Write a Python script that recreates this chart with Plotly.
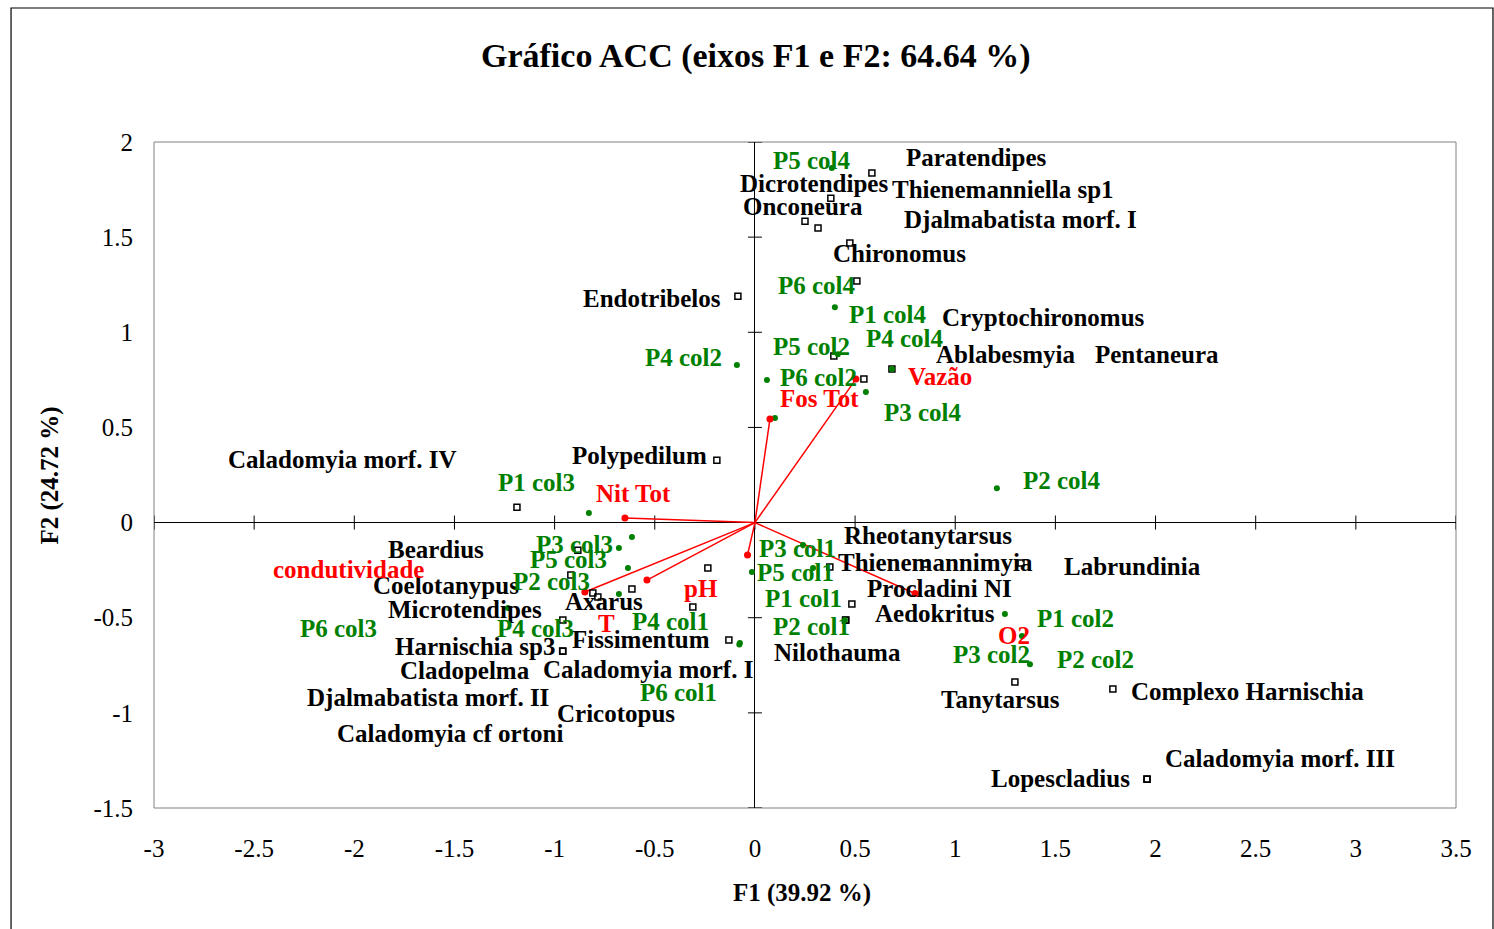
import plotly.graph_objects as go

# ---------------- data: CCA scores (F1, F2) ----------------
species_names = [
    "Paratendipes", "Dicrotendipes", "Onconeura", "Thienemanniella sp1",
    "Djalmabatista morf. I", "Chironomus", "Endotribelos", "Cryptochironomus",
    "Pentaneura", "Ablabesmyia", "Polypedilum", "Caladomyia morf. IV",
    "Beardius", "Coelotanypus", "Microtendipes", "Axarus", "Harnischia sp3",
    "Fissimentum", "Cladopelma", "Caladomyia morf. I", "Djalmabatista morf. II",
    "Cricotopus", "Caladomyia cf ortoni",
    "Rheotanytarsus", "Thienemannimyia", "Labrundinia", "Procladini NI",
    "Aedokritus", "Nilothauma", "Tanytarsus", "Complexo Harnischia",
    "Caladomyia morf. III", "Lopescladius",
]
species_f1 = [
    0.584, 0.379, 0.250, 0.315, 0.474, 0.509, -0.085, 0.394, 0.544, 0.684,
    -0.190, -1.188,
    -0.884, -0.919, -0.959, -0.784, -0.959, -0.130, -0.809, -0.310, -0.614,
    -0.235, -0.960,
    0.374, 0.849, 1.328, 0.484, 0.454, 0.452, 1.298, 1.787, 1.957, 1.958,
]
species_f2 = [
    1.837, 1.705, 1.584, 1.548, 1.469, 1.269, 1.190, 0.875, 0.754, 0.807,
    0.328, 0.081,
    -0.145, -0.276, -0.512, -0.391, -0.675, -0.617, -0.370, -0.444, -0.349,
    -0.239, -0.676,
    -0.234, -0.218, -0.213, -0.428, -0.512, -0.513, -0.838, -0.875, -1.348, -1.349,
]

site_names = [
    "P5 col4", "P1 col4", "P6 col4", "P5 col2", "P4 col4", "P4 col2",
    "P6 col2", "P3 col4", "P2 col4",
    "P1 col3", "P3 col3", "P5 col3", "P2 col3", "P4 col3", "P6 col3",
    "P4 col1", "P6 col1", "P3 col1", "P5 col1", "P1 col1", "P2 col1",
    "P1 col2", "P3 col2", "P2 col2",
]
site_f1 = [
    0.384, 0.399, 0.100, 0.414, 0.684, -0.090, 0.060, 0.554, 1.208,
    -0.829, -0.614, -0.679, -0.634, -0.679, -1.233,
    -0.075, -0.078, 0.240, -0.015, 0.290, 0.449,
    1.248, 1.333, 1.373,
]
site_f2 = [
    1.863, 1.132, 0.549, 0.885, 0.807, 0.828, 0.749, 0.686, 0.181,
    0.050, -0.076, -0.134, -0.239, -0.376, -0.449,
    -0.633, -0.641, -0.118, -0.260, -0.239, -0.512,
    -0.481, -0.596, -0.744,
]

env_names = ["Vazão", "Fos Tot", "Nit Tot", "condutividade", "T", "pH", "O2"]
env_f1 = [0.504, 0.075, -0.649, -0.849, -0.539, -0.037, 0.799]
env_f2 = [0.754, 0.544, 0.024, -0.365, -0.302, -0.171, -0.373]

x_ticks = [-3, -2.5, -2, -1.5, -1, -0.5, 0, 0.5, 1, 1.5, 2, 2.5, 3, 3.5]
y_ticks = [-1.5, -1, -0.5, 0, 0.5, 1, 1.5, 2]

# ---------------- label placement (pixel offsets from each point) ----------------
species_label_offset = {
    "Paratendipes": (105, 16), "Dicrotendipes": (-17, 15), "Onconeura": (-2, 15),
    "Thienemanniella sp1": (185, 39), "Djalmabatista morf. I": (171, 24),
    "Chironomus": (43, 28), "Endotribelos": (-86, -2), "Cryptochironomus": (210, 39),
    "Pentaneura": (293, 25), "Ablabesmyia": (114, 15), "Polypedilum": (-77, 5),
    "Caladomyia morf. IV": (-175, 48), "Beardius": (-142, 1), "Coelotanypus": (-125, -10),
    "Microtendipes": (-98, 11), "Axarus": (6, -5), "Harnischia sp3": (-88, 5),
    "Fissimentum": (-88, 0), "Cladopelma": (-128, -78), "Caladomyia morf. I": (-45, -62),
    "Djalmabatista morf. II": (-204, -109), "Cricotopus": (-92, -145),
    "Caladomyia cf ortoni": (-113, -82), "Rheotanytarsus": (98, 32),
    "Thienemannimyia": (11, 2), "Labrundinia": (112, -3), "Procladini NI": (88, 16),
    "Aedokritus": (89, 7), "Nilothauma": (-8, -32), "Tanytarsus": (-14, -17),
    "Complexo Harnischia": (135, -2), "Caladomyia morf. III": (133, 21),
    "Lopescladius": (-87, 1),
}
site_label_offset = {
    "P5 col4": (-20, 8), "P1 col4": (53, -7), "P6 col4": (42, 133), "P5 col2": (-26, 8),
    "P4 col4": (13, 31), "P4 col2": (-53, 8), "P6 col2": (52, 3), "P3 col4": (57, -20),
    "P2 col4": (65, 8), "P1 col3": (-52, 31), "P3 col3": (-57, -7), "P5 col3": (-50, -11),
    "P2 col3": (-76, -13), "P4 col3": (-83, -34), "P6 col3": (-169, -20),
    "P4 col1": (-69, 22), "P6 col1": (-61, -48), "P3 col1": (-6, -3), "P5 col1": (44, 0),
    "P1 col1": (-10, -30), "P2 col1": (-33, -6), "P1 col2": (71, -4), "P3 col2": (-30, -19),
    "P2 col2": (66, 5),
}
env_label_offset = {
    "Vazão": (84, 3), "Fos Tot": (50, 21), "Nit Tot": (9, 25), "condutividade": (-236, 23),
    "T": (-40, -43), "pH": (-47, -33), "O2": (99, -42),
}

GREEN = "#008000"
RED = "#FF0000"
SERIF = "Liberation Serif"
LABEL_SIZE = 25

fig = go.Figure()

# small tick marks crossing the axis lines through the origin
tx, ty = [], []
for v in x_ticks:
    tx += [v, v, None]
    ty += [-0.037, 0.037, None]
for v in y_ticks:
    tx += [-0.035, 0.035, None]
    ty += [v, v, None]
fig.add_trace(go.Scatter(x=tx, y=ty, mode="lines", line=dict(color="black", width=1),
                         hoverinfo="skip", showlegend=False))

# environmental vectors
lx, ly = [], []
for a, b in zip(env_f1, env_f2):
    lx += [0, a, None]
    ly += [0, b, None]
fig.add_trace(go.Scatter(x=lx, y=ly, mode="lines", line=dict(color=RED, width=1.5),
                         hoverinfo="skip", showlegend=False))

fig.add_trace(go.Scatter(x=species_f1, y=species_f2, mode="markers", name="Espécies",
                         marker=dict(symbol="square-open", size=6, color="black",
                                     line=dict(width=1.5, color="black")),
                         text=species_names, showlegend=False))
fig.add_trace(go.Scatter(x=site_f1, y=site_f2, mode="markers", name="Pontos",
                         marker=dict(symbol="circle", size=6, color=GREEN),
                         text=site_names, showlegend=False))
fig.add_trace(go.Scatter(x=env_f1, y=env_f2, mode="markers", name="Variáveis",
                         marker=dict(symbol="circle", size=7, color=RED),
                         text=env_names, showlegend=False))

annotations = []


def add_labels(names, xs, ys, offsets, color):
    for n, a, b in zip(names, xs, ys):
        dx, dy = offsets[n]
        annotations.append(dict(
            x=a, y=b, xref="x", yref="y", text=n, showarrow=False,
            xshift=dx, yshift=dy, xanchor="center", yanchor="middle",
            font=dict(family=SERIF, size=LABEL_SIZE, color=color, weight="bold"),
        ))


add_labels(species_names, species_f1, species_f2, species_label_offset, "black")
add_labels(site_names, site_f1, site_f2, site_label_offset, GREEN)
add_labels(env_names, env_f1, env_f2, env_label_offset, RED)

# chart and axis titles
annotations.append(dict(x=0.4624, y=1.129, xref="paper", yref="paper",
                        text="Gráfico ACC (eixos F1 e F2: 64.64 %)", showarrow=False,
                        xanchor="center", yanchor="middle",
                        font=dict(family=SERIF, size=34, color="black", weight="bold")))
annotations.append(dict(x=0.4977, y=-0.1276, xref="paper", yref="paper",
                        text="F1 (39.92 %)", showarrow=False,
                        xanchor="center", yanchor="middle",
                        font=dict(family=SERIF, size=25, color="black", weight="bold")))
annotations.append(dict(x=-0.0795, y=0.5, xref="paper", yref="paper",
                        text="F2 (24.72 %)", showarrow=False, textangle=-90,
                        xanchor="center", yanchor="middle",
                        font=dict(family=SERIF, size=25, color="black", weight="bold")))

shapes = [
    # plot-area frame
    dict(type="rect", xref="paper", yref="paper", x0=0, x1=1, y0=0, y1=1,
         line=dict(color="#808080", width=1), layer="below"),
    # outer chart frame
    dict(type="rect", xref="paper", yref="paper", x0=-0.1098, x1=1.0284,
         y0=-0.2, y1=1.2012, line=dict(color="black", width=1.2)),
]

axis_font = dict(family=SERIF, size=25, color="black")
fig.update_layout(
    width=1494, height=929,
    margin=dict(l=154, r=38, t=142, b=121),
    paper_bgcolor="white", plot_bgcolor="white",
    annotations=annotations, shapes=shapes,
    xaxis=dict(range=[-3, 3.5], tickvals=x_ticks, ticktext=[f"{v:g}" for v in x_ticks],
               showgrid=False, zeroline=True, zerolinecolor="black", zerolinewidth=1,
               showline=False, ticks="", tickfont=axis_font, ticklabelstandoff=23),
    yaxis=dict(range=[-1.5, 2], tickvals=y_ticks, ticktext=[f"{v:g}" for v in y_ticks],
               showgrid=False, zeroline=True, zerolinecolor="black", zerolinewidth=1,
               showline=False, ticks="", tickfont=axis_font, ticklabelstandoff=20),
)

fig.write_html("out.html")
